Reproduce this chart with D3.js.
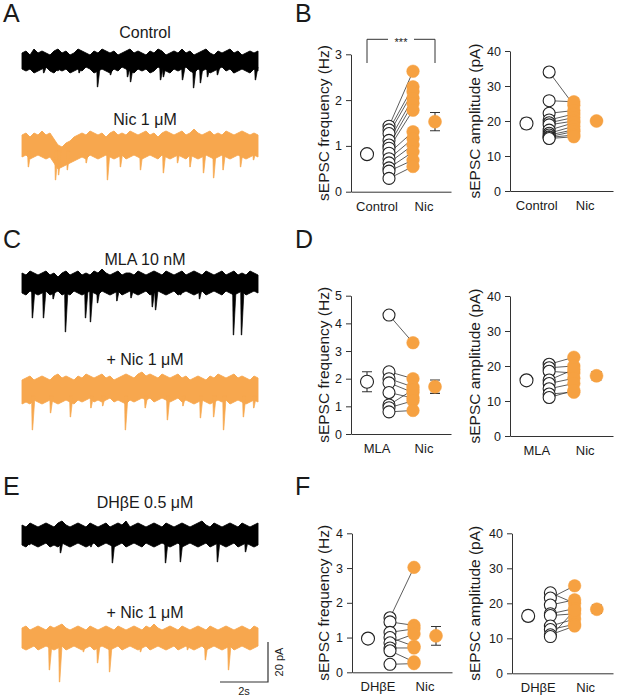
<!DOCTYPE html>
<html><head><meta charset="utf-8">
<script src="https://cdn.jsdelivr.net/npm/d3@7"></script>
<style>
body{margin:0;background:#fff}
text{font-family:"Liberation Sans",Arial,Helvetica,sans-serif;fill:#1a1a1a}
</style>
</head><body>
<svg id="fig" width="617" height="696"></svg>
<script>
// ---------------- DATA ----------------
const groupLabelsB = ["Control", "Nic"];
const groupLabelsD = ["MLA", "Nic"];
const groupLabelsF = ["DHβE", "Nic"];
const traceTitles = ["Control", "Nic 1 μM", "MLA 10 nM", "+ Nic 1 μM", "DHβE 0.5 μM", "+ Nic 1 μM"];
const panelLetters = ["A", "B", "C", "D", "E", "F"];
const freqTitle = "sEPSC frequency (Hz)";
const ampTitle = "sEPSC amplitude (pA)";

const freqTicksB = [0, 1, 2, 3];
const freqTicksD = [0, 1, 2, 3, 4, 5];
const freqTicksF = [0, 1, 2, 3, 4];
const ampTicks = [0, 10, 20, 30, 40];

// Panel B
const bFreqCtrl = [1.43, 1.35, 1.27, 1.12, 1.02, 0.95, 0.84, 0.72, 0.63, 0.52, 0.45, 0.29];
const bFreqNic  = [2.63, 2.29, 2.18, 2.04, 1.93, 1.78, 1.31, 1.16, 1.02, 0.87, 0.69, 0.55];
const bFreqMean = [0.82, 1.53];
const bFreqSem  = [0.08, 0.20];
const bAmpCtrl = [34.0, 25.8, 22.2, 20.3, 19.5, 18.9, 17.4, 16.5, 16.0, 15.5, 15.3, 15.0];
const bAmpNic  = [24.5, 25.5, 23.0, 22.0, 21.0, 20.0, 19.5, 18.5, 17.5, 17.0, 16.0, 15.5];
const bAmpMean = [19.3, 20.0];
const bAmpSem  = [1.5, 0.9];

// Panel D
const dFreqCtrl = [4.30, 2.25, 2.00, 1.85, 1.50, 1.05, 0.95, 0.80];
const dFreqNic  = [3.30, 2.00, 1.70, 1.50, 1.30, 1.60, 1.20, 0.85];
const dFreqMean = [1.89, 1.71];
const dFreqSem  = [0.36, 0.24];
const dAmpCtrl = [20.5, 19.5, 18.5, 16.0, 15.0, 13.5, 12.0, 11.0];
const dAmpNic  = [22.5, 20.0, 18.0, 19.0, 16.5, 15.0, 12.5, 13.0];
const dAmpMean = [15.9, 17.2];
const dAmpSem  = [1.1, 1.2];

// Panel F
const fFreqCtrl = [1.57, 1.45, 1.15, 1.00, 0.85, 0.70, 0.62, 0.23];
const fFreqNic  = [3.02, 1.35, 1.25, 0.75, 1.10, 0.70, 0.30, 0.25];
const fFreqMean = [0.97, 1.05];
const fFreqSem  = [0.12, 0.27];
const fAmpCtrl = [23.0, 21.5, 19.5, 17.0, 16.5, 13.5, 12.5, 11.0, 10.5];
const fAmpNic  = [20.0, 25.0, 21.0, 18.5, 17.0, 15.5, 14.0, 13.5, 18.0];
const fAmpMean = [16.4, 18.3];
const fAmpSem  = [1.4, 1.2];

// Traces: noise envelope (pA above / below baseline, 60 samples over 10 s) and events [time s, amplitude pA]
const aCtrlTop = [4,5,3,6,4,5,4,3,5,6,4,5,3,4,6,5,4,3,5,4,6,5,4,5,3,4,5,6,4,5,4,3,5,4,6,5,3,4,5,4,6,4,5,3,4,5,6,4,3,5,4,5,6,4,5,3,4,5,4,5];
const aCtrlBot = [-4,-5,-4,-6,-5,-4,-3,-5,-6,-4,-5,-4,-6,-5,-4,-5,-3,-4,-6,-5,-4,-5,-6,-4,-5,-3,-4,-5,-6,-4,-5,-4,-6,-5,-3,-4,-5,-6,-4,-5,-4,-3,-5,-6,-4,-5,-4,-6,-5,-4,-3,-5,-4,-6,-5,-4,-5,-6,-4,-5];
const aCtrlEvents = [[0.9,6],[1.5,5],[2.4,6],[3.18,13],[3.73,7],[4.45,8],[4.58,10.5],[5.85,9.5],[5.97,8],[6.78,9.5],[7.25,13.5],[7.54,11],[7.84,8],[8.26,7],[8.94,6],[9.87,9.5]];

const aNicTop = [5,6,4,6,5,7,5,6,3,0,-1,1,2,4,5,6,5,7,6,5,6,4,6,7,5,6,5,7,6,5,6,7,5,6,4,6,7,6,5,6,7,5,6,8,6,5,6,7,5,6,5,7,6,5,6,7,6,5,6,5];
const aNicBot = [-6,-5,-7,-6,-5,-6,-7,-6,-9,-12,-11,-10,-9,-8,-7,-6,-7,-5,-6,-7,-6,-5,-6,-7,-6,-5,-7,-6,-5,-6,-7,-6,-5,-6,-7,-5,-6,-7,-6,-5,-6,-7,-5,-6,-7,-6,-5,-6,-7,-6,-5,-6,-7,-6,-5,-6,-7,-6,-5,-6];
const aNicEvents = [[0.25,11],[1.4,17.5],[1.53,15],[1.9,12.5],[2.7,9],[3.6,17.5],[4.15,11],[5.0,12.5],[5.97,14],[6.57,9],[7.1,11],[7.67,14],[8.1,16.5],[8.5,12.5],[9.24,11],[9.79,7.5]];

const cCtrlTop = [5,4,6,5,4,5,6,4,5,3,5,6,4,5,6,4,5,4,6,5,7,5,4,5,6,4,5,5,4,6,5,4,5,6,5,4,6,5,4,5,6,4,5,6,5,4,6,5,4,5,6,4,5,6,4,5,4,6,5,4];
const cCtrlBot = [-5,-6,-4,-5,-6,-5,-4,-6,-5,-4,-6,-5,-6,-4,-5,-6,-5,-4,-5,-6,-4,-5,-6,-5,-4,-6,-5,-4,-5,-6,-5,-4,-6,-5,-4,-5,-6,-5,-4,-6,-5,-4,-5,-6,-5,-4,-6,-5,-4,-5,-6,-4,-5,-6,-5,-4,-6,-5,-4,-5];
const cCtrlEvents = [[0.42,17.5],[0.89,17.5],[1.3,8],[1.82,24.5],[2.67,17.5],[2.88,19.5],[3.18,10],[4.0,9],[4.6,7.5],[5.5,12],[5.64,13.5],[6.7,6],[7.5,8],[8.94,26],[9.28,26]];

const cNicTop = [5,6,7,5,6,7,6,5,7,8,6,7,6,5,7,6,8,7,6,7,8,6,7,5,6,7,8,7,6,8,9,7,8,7,6,8,7,6,7,8,6,7,5,6,7,6,5,7,6,8,7,6,7,8,6,7,6,5,7,6];
const cNicBot = [-7,-6,-7,-5,-6,-7,-6,-5,-6,-7,-6,-5,-6,-7,-5,-6,-5,-4,-6,-5,-6,-5,-4,-6,-5,-6,-7,-5,-6,-5,-4,-5,-4,-6,-5,-4,-5,-6,-5,-4,-6,-5,-6,-7,-6,-5,-6,-7,-6,-5,-6,-5,-7,-6,-5,-6,-7,-6,-5,-6];
const cNicEvents = [[0.42,20],[1.19,11.5],[2.03,13.5],[2.9,9],[3.4,8],[4.36,20],[5.2,9],[6.14,15],[6.8,8],[7.54,14],[8.1,13.5],[8.52,20],[9.36,13.5],[9.8,9]];

const eCtrlTop = [5,4,6,5,4,5,6,5,4,6,7,5,4,5,6,5,4,6,5,4,5,6,4,5,6,5,7,4,5,6,5,4,5,6,5,4,6,5,4,5,6,5,4,5,6,7,5,4,6,5,4,5,6,5,4,6,5,4,5,6];
const eCtrlBot = [-5,-6,-4,-5,-6,-5,-4,-6,-5,-6,-4,-5,-6,-5,-4,-5,-6,-5,-4,-6,-5,-4,-5,-6,-5,-4,-6,-5,-4,-5,-6,-4,-5,-6,-5,-4,-5,-6,-5,-4,-6,-5,-4,-5,-6,-5,-4,-6,-5,-4,-5,-6,-5,-4,-6,-5,-4,-5,-6,-5];
const eCtrlEvents = [[0.3,5],[1.61,9],[2.9,6],[3.81,14],[4.5,5],[6.06,14],[6.69,13.5],[7.5,5],[8.26,13.5],[9.45,8.5]];

const eNicTop = [5,6,4,5,6,5,4,6,5,6,7,5,4,5,6,5,4,6,5,4,5,6,5,4,6,5,4,5,6,5,4,6,5,7,5,4,5,6,5,4,6,5,4,5,6,5,4,6,5,4,5,6,5,4,5,6,5,4,6,5];
const eNicBot = [-5,-6,-5,-4,-6,-5,-4,-5,-6,-5,-4,-6,-5,-4,-5,-6,-5,-4,-6,-5,-4,-5,-6,-5,-4,-6,-5,-4,-5,-6,-5,-4,-6,-5,-4,-5,-6,-5,-4,-6,-5,-4,-5,-6,-5,-4,-6,-5,-4,-5,-6,-5,-4,-6,-5,-4,-5,-6,-5,-4];
const eNicEvents = [[1.14,16],[1.57,22],[2.58,7],[3.18,12.5],[3.69,17],[5.0,7],[6.99,6],[7.75,11],[8.73,16]];

const scaleBarPA = 20;
const scaleBarSec = 2;

// ---------------- DRAWING ----------------
const ORANGE = "#F6A141";
const TRACE_ORANGE = "#F7A74E";
const svg = d3.select("#fig");

// panel letters
const letterPos = [[3,22],[295,22],[3,248],[295,248],[3,495],[295,495]];
panelLetters.forEach((l,i)=>{
  svg.append("text").attr("x",letterPos[i][0]).attr("y",letterPos[i][1])
    .attr("font-size",25).text(l);
});

// traces
const tx = d3.scaleLinear().domain([0,10]).range([22,258]);
function trace(top, bot, events, centerY, color, title, titleY){
  const y = d3.scaleLinear().domain([-30,10]).range([centerY+60, centerY-20]);
  const n = top.length;
  const tAt = i => i*10/(n-1);
  const g = svg.append("g");
  const area = d3.area().x((d,i)=>tx(tAt(i))).y0((d,i)=>y(bot[i])).y1(d=>y(d)).curve(d3.curveLinear);
  g.append("path").datum(top).attr("d",area).attr("fill",color).attr("stroke",color)
    .attr("stroke-width",0.9).attr("stroke-linejoin","miter");
  const line = d3.line().x(d=>tx(d[0])).y(d=>y(d[1]));
  events.forEach(e=>{
    const pts = [[e[0]-0.015,-3],[e[0]+0.01,-e[1]],[e[0]+0.03,-e[1]],[e[0]+0.13,-3]];
    g.append("path").attr("d",line(pts)+"Z").attr("fill",color).attr("stroke",color).attr("stroke-width",0.7);
  });
  svg.append("text").attr("x",145).attr("y",titleY).attr("text-anchor","middle").attr("font-size",16).text(title);
}
trace(aCtrlTop,aCtrlBot,aCtrlEvents,61,"#000",traceTitles[0],38);
trace(aNicTop,aNicBot,aNicEvents,145,TRACE_ORANGE,traceTitles[1],125);
trace(cCtrlTop,cCtrlBot,cCtrlEvents,283,"#000",traceTitles[2],265);
trace(cNicTop,cNicBot,cNicEvents,390,TRACE_ORANGE,traceTitles[3],365);
trace(eCtrlTop,eCtrlBot,eCtrlEvents,535,"#000",traceTitles[4],508);
trace(eNicTop,eNicBot,eNicEvents,638,TRACE_ORANGE,traceTitles[5],618);

// scale bar
const sbY = d3.scaleLinear().domain([0,scaleBarPA]).range([682,642]);
const sbX = d3.scaleLinear().domain([0,scaleBarSec]).range([268,220]);
svg.append("path").attr("d",`M${sbX(scaleBarSec)},${sbY(0)}H${sbX(0)}V${sbY(scaleBarPA)}`)
  .attr("fill","none").attr("stroke","#333").attr("stroke-width",1.2);
svg.append("text").attr("transform",`translate(283,${sbY(scaleBarPA/2)}) rotate(-90)`)
  .attr("text-anchor","middle").attr("font-size",11).text(scaleBarPA+" pA");
svg.append("text").attr("x",sbX(scaleBarSec/2)).attr("y",695).attr("text-anchor","middle")
  .attr("font-size",11).text(scaleBarSec+"s");

// scatter panels
function panel(o){
  const x = d3.scaleLinear().domain([0,5]).range([o.ax, o.ax+o.w]);
  const y = d3.scaleLinear().domain([0,o.max]).range([o.y0, o.yTop]);
  const g = svg.append("g");
  const ya = g.append("g").attr("transform",`translate(${o.ax},0)`)
    .call(d3.axisLeft(y).tickValues(o.ticks).tickSize(5).tickSizeOuter(0).tickFormat(d3.format("d")));
  ya.selectAll("text").attr("font-size",12.5).attr("fill","#1a1a1a").attr("font-family","Liberation Sans, Arial, sans-serif").attr("dx","-1");
  ya.selectAll("line,path").attr("stroke","#333");
  const xa = g.append("g").attr("transform",`translate(0,${o.y0})`)
    .call(d3.axisBottom(x).tickValues([]).tickSizeOuter(0));
  xa.selectAll("path").attr("stroke","#333");
  // category labels
  [1.3,3.65].forEach((p,i)=>{
    g.append("text").attr("x",x(p)).attr("y",o.y0+19).attr("text-anchor","middle")
      .attr("font-size",13).text(o.labels[i]);
  });
  // axis title
  g.append("text").attr("transform",`translate(${o.titleX},${(o.y0+o.yTop)/2}) rotate(-90)`)
    .attr("text-anchor","middle").attr("font-size",15.5).text(o.title);
  // paired lines
  o.ctrl.forEach((v,i)=>{
    g.append("line").attr("x1",x(1.9)).attr("y1",y(v)).attr("x2",x(3.1)).attr("y2",y(o.nic[i]))
      .attr("stroke","#333").attr("stroke-width",0.8);
  });
  // nic points
  g.selectAll(null).data(o.nic).join("circle").attr("cx",x(3.1)).attr("cy",d=>y(d)).attr("r",6.3)
    .attr("fill",ORANGE).attr("stroke",ORANGE).attr("stroke-width",0.5);
  // ctrl points
  g.selectAll(null).data(o.ctrl).join("circle").attr("cx",x(1.9)).attr("cy",d=>y(d)).attr("r",6)
    .attr("fill","#fff").attr("stroke","#222").attr("stroke-width",1.1);
  // means
  [0.8,4.2].forEach((p,i)=>{
    const m=o.mean[i], s=o.sem[i], cx=x(p);
    g.append("path").attr("d",`M${cx-5},${y(m+s)}H${cx+5}M${cx},${y(m+s)}V${y(m-s)}M${cx-5},${y(m-s)}H${cx+5}`)
      .attr("stroke", "#333").attr("stroke-width",1.1).attr("fill","none");
    g.append("circle").attr("cx",cx).attr("cy",y(m)).attr("r",6.5)
      .attr("fill",i===0?"#fff":ORANGE).attr("stroke",i===0?"#222":ORANGE).attr("stroke-width",i===0?1.1:0.5);
  });
  return {x,y};
}

const pB = panel({ax:351,w:100,y0:191.7,yTop:54.3,max:3,ticks:freqTicksB,labels:groupLabelsB,title:freqTitle,titleX:329,
  ctrl:bFreqCtrl,nic:bFreqNic,mean:bFreqMean,sem:bFreqSem});
panel({ax:510,w:103,y0:191,yTop:51,max:40,ticks:ampTicks,labels:groupLabelsB,title:ampTitle,titleX:480,
  ctrl:bAmpCtrl,nic:bAmpNic,mean:bAmpMean,sem:bAmpSem});
panel({ax:351,w:100,y0:434,yTop:295.7,max:5,ticks:freqTicksD,labels:groupLabelsD,title:freqTitle,titleX:329,
  ctrl:dFreqCtrl,nic:dFreqNic,mean:dFreqMean,sem:dFreqSem});
panel({ax:510,w:103,y0:436,yTop:296,max:40,ticks:ampTicks,labels:groupLabelsD,title:ampTitle,titleX:480,
  ctrl:dAmpCtrl,nic:dAmpNic,mean:dAmpMean,sem:dAmpSem});
panel({ax:352,w:100,y0:672.3,yTop:533.3,max:4,ticks:freqTicksF,labels:groupLabelsF,title:freqTitle,titleX:329,
  ctrl:fFreqCtrl,nic:fFreqNic,mean:fFreqMean,sem:fFreqSem});
panel({ax:512,w:101,y0:673.3,yTop:533.3,max:40,ticks:ampTicks,labels:groupLabelsF,title:ampTitle,titleX:480,
  ctrl:fAmpCtrl,nic:fAmpNic,mean:fAmpMean,sem:fAmpSem});

// significance bracket in B
const bx1 = pB.x(0.8), bx2 = pB.x(4.2), by = 39.3, byEnd = 63;
svg.append("path").attr("d",`M${bx1},${byEnd}V${by}H${(bx1+bx2)/2-13}M${(bx1+bx2)/2+13},${by}H${bx2}V${byEnd}`)
  .attr("fill","none").attr("stroke","#333").attr("stroke-width",1);
svg.append("text").attr("x",(bx1+bx2)/2).attr("y",by+7).attr("text-anchor","middle").attr("font-size",11).text("***");
</script>
</body></html>
